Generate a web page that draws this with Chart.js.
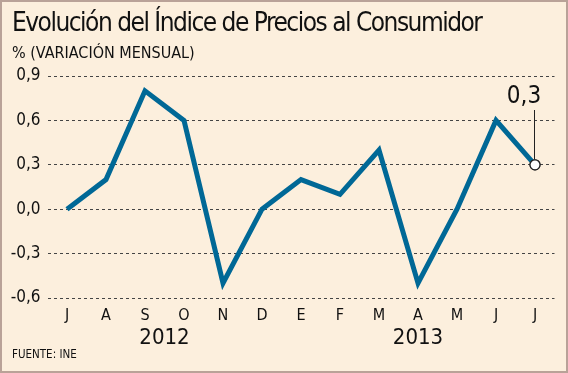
<!DOCTYPE html>
<html>
<head>
<meta charset="utf-8">
<script src="https://cdn.jsdelivr.net/npm/chart.js@4/dist/chart.umd.min.js"></script>
<style>
  html, body { margin: 0; padding: 0; }
  body { width: 568px; height: 373px; overflow: hidden; }
  #frame {
    position: relative; width: 568px; height: 373px; box-sizing: border-box;
    background: #fcefdd; border: 2px solid #b9a298;
    font-family: "DejaVu Sans Condensed", "DejaVu Sans", sans-serif; color: #111;
  }
  #title { position: absolute; left: 10px; top: 5px; font-size: 26px; letter-spacing: -1.5px; white-space: nowrap; }
  #subtitle { position: absolute; left: 10px; top: 41px; font-size: 16px; white-space: nowrap; }
  #source { position: absolute; left: 10px; top: 345px; font-size: 11.5px; }
  #chartBox { position: absolute; left: 0; top: 0; width: 564px; height: 369px; }
</style>
</head>
<body>
<div id="frame">
  <div id="chartBox"><canvas id="ipcChart"></canvas></div>
  <div id="title">Evolución del Índice de Precios al Consumidor</div>
  <div id="subtitle">% (VARIACIÓN MENSUAL)</div>
  <div id="source">FUENTE: INE</div>
</div>
<script>
// months from July 2012 to June 2013
const months = ['J', 'A', 'S', 'O', 'N', 'D', 'E', 'F', 'M', 'A', 'M', 'J', 'J'];
const ipcValues = [0.0, 0.2, 0.8, 0.6, -0.5, 0.0, 0.2, 0.1, 0.4, -0.5, 0.0, 0.6, 0.3];
const yTicks = [-0.6, -0.3, 0.0, 0.3, 0.6, 0.9];
const yearLabels = ['2012', '2013'];
const yearCenters = [2.5, 9]; // category index the year is centered on
const lastLabel = '0,3';

const LINE_COLOR = '#006896';
const FONT = '"DejaVu Sans Condensed", "DejaVu Sans", sans-serif';

// year labels under the month ticks
const yearPlugin = {
  id: 'years',
  afterDraw(chart) {
    const ctx = chart.ctx;
    const x = chart.scales.x;
    ctx.save();
    ctx.font = '22px ' + FONT;
    ctx.fillStyle = '#111';
    ctx.textAlign = 'center';
    ctx.textBaseline = 'middle';
    yearLabels.forEach((lab, i) => {
      ctx.fillText(lab, x.getPixelForValue(yearCenters[i]), 336);
    });
    ctx.restore();
  }
};

// callout for the last value
const calloutPlugin = {
  id: 'callout',
  afterDatasetsDraw(chart) {
    const ctx = chart.ctx;
    const pt = chart.getDatasetMeta(0).data[ipcValues.length - 1];
    ctx.save();
    ctx.strokeStyle = '#222';
    ctx.lineWidth = 1;
    ctx.beginPath();
    ctx.moveTo(pt.x - 0.5, pt.y - 5);
    ctx.lineTo(pt.x - 0.5, 108);
    ctx.stroke();
    ctx.font = '24px ' + FONT;
    ctx.fillStyle = '#111';
    ctx.textAlign = 'center';
    ctx.textBaseline = 'middle';
    ctx.fillText(lastLabel, pt.x - 11, 95);
    ctx.restore();
    // redraw the last point on top of the line
    pt.draw(ctx);
  }
};

const config = {
  type: 'line',
  data: {
    labels: months,
    datasets: [{
      data: ipcValues,
      borderColor: LINE_COLOR,
      borderWidth: 5,
      tension: 0,
      pointRadius: ipcValues.map((v, i) => i === ipcValues.length - 1 ? 5 : 0),
      pointBackgroundColor: '#fff',
      pointBorderColor: '#222',
      pointBorderWidth: 1.2,
      borderJoinStyle: 'miter',
      borderCapStyle: 'butt'
    }]
  },
  options: {
    responsive: true,
    maintainAspectRatio: false,
    animation: false,
    layout: { padding: { left: 0, right: 11.5, top: 74, bottom: 0 } },
    plugins: {
      legend: { display: false },
      tooltip: { enabled: false }
    },
    scales: {
      x: {
        offset: true,
        grid: { display: false },
        border: { display: false },
        ticks: { color: '#111', font: { family: FONT, size: 16 }, padding: 0, maxRotation: 0 },
        afterFit(axis) { axis.height = 73; }
      },
      y: {
        min: -0.6,
        max: 0.9,
        afterBuildTicks(axis) {
          axis.ticks = yTicks.map(v => ({ value: v }));
        },
        afterFit(axis) { axis.width = 45.5; },
        grid: {
          color: '#444',
          lineWidth: 1,
          drawTicks: false
        },
        border: { display: false, dash: [3, 3] },
        ticks: {
          color: '#111',
          font: { family: FONT, size: 17 },
          padding: 7,
          callback: v => v.toFixed(1).replace('.', ',')
        }
      }
    }
  },
  plugins: [yearPlugin, calloutPlugin]
};

const ipcChart = new Chart(document.getElementById('ipcChart'), config);
</script>
</body>
</html>
